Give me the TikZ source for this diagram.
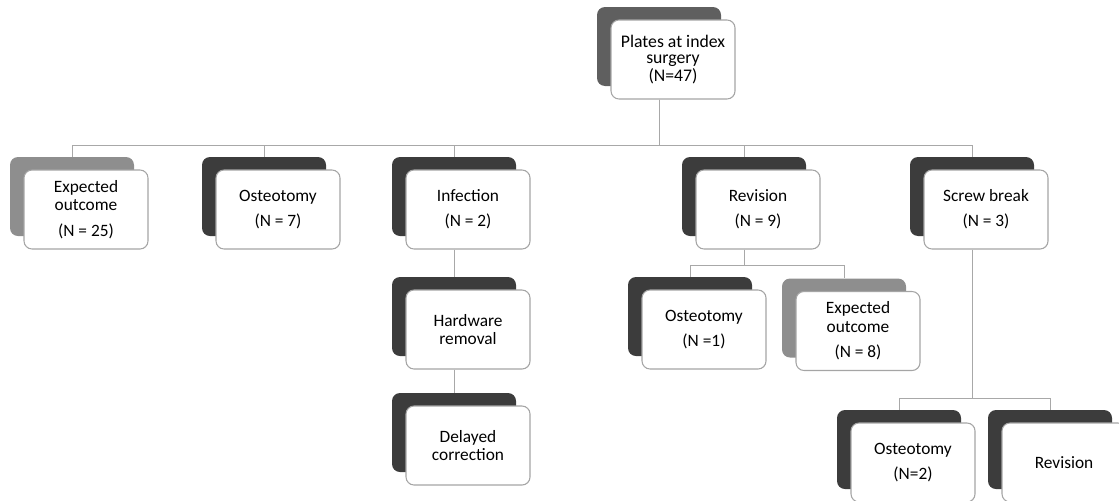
\documentclass[tikz,border=0pt]{standalone}
\usepackage{fontspec}
\setmainfont{Carlito}
\usetikzlibrary{calc}
\definecolor{darkcard}{HTML}{3C3C3C}
\definecolor{midcard}{HTML}{8E8E8E}
\definecolor{topcard}{HTML}{5F5F5F}
\definecolor{rimgray}{HTML}{A5A5A5}
\definecolor{linkgray}{HTML}{A8A8A8}
\newcommand\cardfont{\fontsize{13}{14}\selectfont\setlength\lineskiplimit{-20pt}}
\newcommand\topfont{\fontsize{13.3}{12}\selectfont\setlength\lineskiplimit{-20pt}}

\begin{document}
\begin{tikzpicture}[x=0.75pt,y=-0.75pt,
  card/.style={rectangle, rounded corners=6pt, minimum width=93pt, minimum height=59.25pt, inner sep=0pt},
  back/.style={card, fill=darkcard},
  front/.style={card, draw=rimgray, line width=0.8pt, fill=white, align=center, font=\cardfont},
  link/.style={draw=linkgray, line width=0.75pt}]
  \useasboundingbox (0,0) rectangle (1119,500);
  \clip (0,0) rectangle (1119,500);

  % top
  \node[back, fill=topcard] (top-b) at (659,46.5) {};
  \node[front, font=\topfont] (top) at ($(top-b)+(14,13)$) {Plates at index\\surgery\\[1.5pt](N=47)};

  % first row
  \node[back, fill=midcard] (exp25-b) at (72,196.5) {};
  \node[front] (exp25) at ($(exp25-b)+(14,13)$) {Expected\\outcome\\[5pt](N = 25)};
  \node[back] (ost7-b) at (264,196.5) {};
  \node[front] (ost7) at ($(ost7-b)+(14,13)$) {Osteotomy\\[5pt](N = 7)};
  \node[back] (inf-b) at (454,196.5) {};
  \node[front] (inf) at ($(inf-b)+(14,13)$) {Infection\\[5pt](N = 2)};
  \node[back] (rev-b) at (744,196.5) {};
  \node[front] (rev) at ($(rev-b)+(14,13)$) {Revision\\[5pt](N = 9)};
  \node[back] (scr-b) at (972,196.5) {};
  \node[front] (scr) at ($(scr-b)+(14,13)$) {Screw break\\[5pt](N = 3)};

  % below infection
  \node[back] (hw-b) at (454,316.5) {};
  \node[front] (hw) at ($(hw-b)+(14,13)$) {Hardware\\removal};
  \node[back] (del-b) at (454,432.5) {};
  \node[front] (del) at ($(del-b)+(14,13)$) {Delayed\\correction};

  % below revision
  \node[back] (ost1-b) at (690,316.5) {};
  \node[front] (ost1) at ($(ost1-b)+(14,13)$) {Osteotomy\\[5pt](N =1)};
  \node[back, fill=midcard] (exp8-b) at (844,318) {};
  \node[front] (exp8) at ($(exp8-b)+(14,13)$) {Expected\\outcome\\[5pt](N = 8)};

  % below screw break
  \node[back] (ost2-b) at (899,449.5) {};
  \node[front] (ost2) at ($(ost2-b)+(14,13)$) {Osteotomy\\[5pt](N=2)};
  \node[back] (rev2-b) at (1050,449.5) {};
  \node[front] (rev2) at ($(rev2-b)+(14,13)$) {Revision};

  \coordinate (bar1) at (0,145);
  \coordinate (bar2) at (0,265);
  \coordinate (bar3) at (0,398);

  \draw[link] (top.south -| top-b) -- (top-b |- bar1) -| (exp25-b.north);
  \draw[link] (top.south -| top-b) -- (top-b |- bar1) -| (ost7-b.north);
  \draw[link] (top.south -| top-b) -- (top-b |- bar1) -| (inf-b.north);
  \draw[link] (top.south -| top-b) -- (top-b |- bar1) -| (rev-b.north);
  \draw[link] (top.south -| top-b) -- (top-b |- bar1) -| (scr-b.north);

  \draw[link] (inf.south -| inf-b) -- (hw-b.north);
  \draw[link] (hw.south -| hw-b) -- (del-b.north);

  \draw[link] (rev.south -| rev-b) -- (rev-b |- bar2) -| (ost1-b.north);
  \draw[link] (rev.south -| rev-b) -- (rev-b |- bar2) -| (exp8-b.north);

  \draw[link] (scr.south -| scr-b) -- (scr-b |- bar3) -| (ost2-b.north);
  \draw[link] (scr.south -| scr-b) -- (scr-b |- bar3) -| (rev2-b.north);
\end{tikzpicture}
\end{document}
